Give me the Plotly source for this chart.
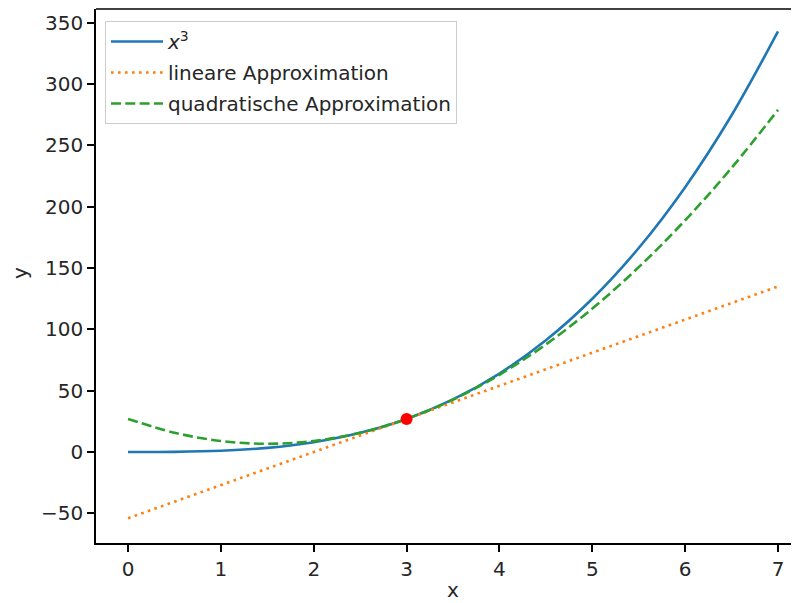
import plotly.graph_objects as go

x_vals = [0, 0.5, 1, 1.5, 2, 2.5, 3, 3.5, 4, 4.5, 5, 5.5, 6, 6.5, 7]
y_cubic = [0, 0.125, 1, 3.375, 8, 15.625, 27, 42.875, 64, 91.125, 125, 166.375, 216, 274.625, 343]
y_linear = [-54, -40.5, -27, -13.5, 0, 13.5, 27, 40.5, 54, 67.5, 81, 94.5, 108, 121.5, 135]
y_quad = [27, 15.75, 9, 6.75, 9, 15.75, 27, 42.75, 63, 87.75, 117, 150.75, 189, 231.75, 279]
point_x = [3]
point_y = [27]
names = ["<i>x</i><sup>3</sup>", "lineare Approximation", "quadratische Approximation"]
x_ticks = [0, 1, 2, 3, 4, 5, 6, 7]
y_ticks = [-50, 0, 50, 100, 150, 200, 250, 300, 350]
y_tick_text = ["\u221250", "0", "50", "100", "150", "200", "250", "300", "350"]

FONT = "DejaVu Sans"
FS = 20
TXT = "#262626"

fig = go.Figure()
fig.add_trace(go.Scatter(x=x_vals, y=y_cubic, mode="lines", name=names[0], legendgroup="a",
                         line=dict(color="#1f77b4", width=2.6, shape="spline")))
fig.add_trace(go.Scatter(x=x_vals, y=y_linear, mode="lines", name=names[1], legendgroup="b",
                         line=dict(color="#ff7f0e", width=2.6, dash="2.6px,4.4px")))
fig.add_trace(go.Scatter(x=x_vals, y=y_quad, mode="lines", name=names[2], legendgroup="c",
                         line=dict(color="#2ca02c", width=2.6, dash="10px,4.3px", shape="spline")))
fig.add_trace(go.Scatter(x=point_x, y=point_y, mode="markers", showlegend=False,
                         marker=dict(color="red", size=12)))

axis_common = dict(showgrid=False, zeroline=False, showline=True, linecolor="black",
                   linewidth=1.5, ticks="outside", ticklen=7, tickwidth=1.5, tickcolor="black",
                   automargin=False,
                   tickfont=dict(family=FONT, size=FS, color=TXT))

# The page body adds an 8px offset, so margins/size compensate for it.
fig.update_layout(
    width=791, height=595,
    margin=dict(l=88, r=0, t=1, b=60),
    paper_bgcolor="white", plot_bgcolor="white",
    font=dict(family=FONT, size=FS, color=TXT),
    xaxis=dict(range=[-0.345, 7.226], tickvals=x_ticks, **axis_common),
    yaxis=dict(range=[-74.2, 361.3], tickvals=y_ticks, ticktext=y_tick_text, **axis_common),
    legend=dict(x=9 / 703, y=(543 - 21) / 534, xanchor="left", yanchor="top",
                bgcolor="rgba(255,255,255,0.8)", bordercolor="#cccccc", borderwidth=1,
                font=dict(family=FONT, size=FS, color=TXT),
                tracegroupgap=2, itemwidth=52),
    showlegend=True,
)
fig.add_shape(type="line", xref="paper", yref="paper", x0=0, x1=1, y0=1, y1=1,
              line=dict(color="black", width=1.5))
fig.add_annotation(text="x", xref="paper", yref="paper", x=(453 - 96) / 703, y=-47 / 534,
                   xanchor="center", yanchor="middle", showarrow=False,
                   font=dict(family=FONT, size=FS, color=TXT))
fig.add_annotation(text="y", xref="paper", yref="paper", x=-76 / 703, y=(543 - 273) / 534,
                   xanchor="center", yanchor="middle", showarrow=False, textangle=-90,
                   font=dict(family=FONT, size=FS, color=TXT))

fig.write_html("out.html")
